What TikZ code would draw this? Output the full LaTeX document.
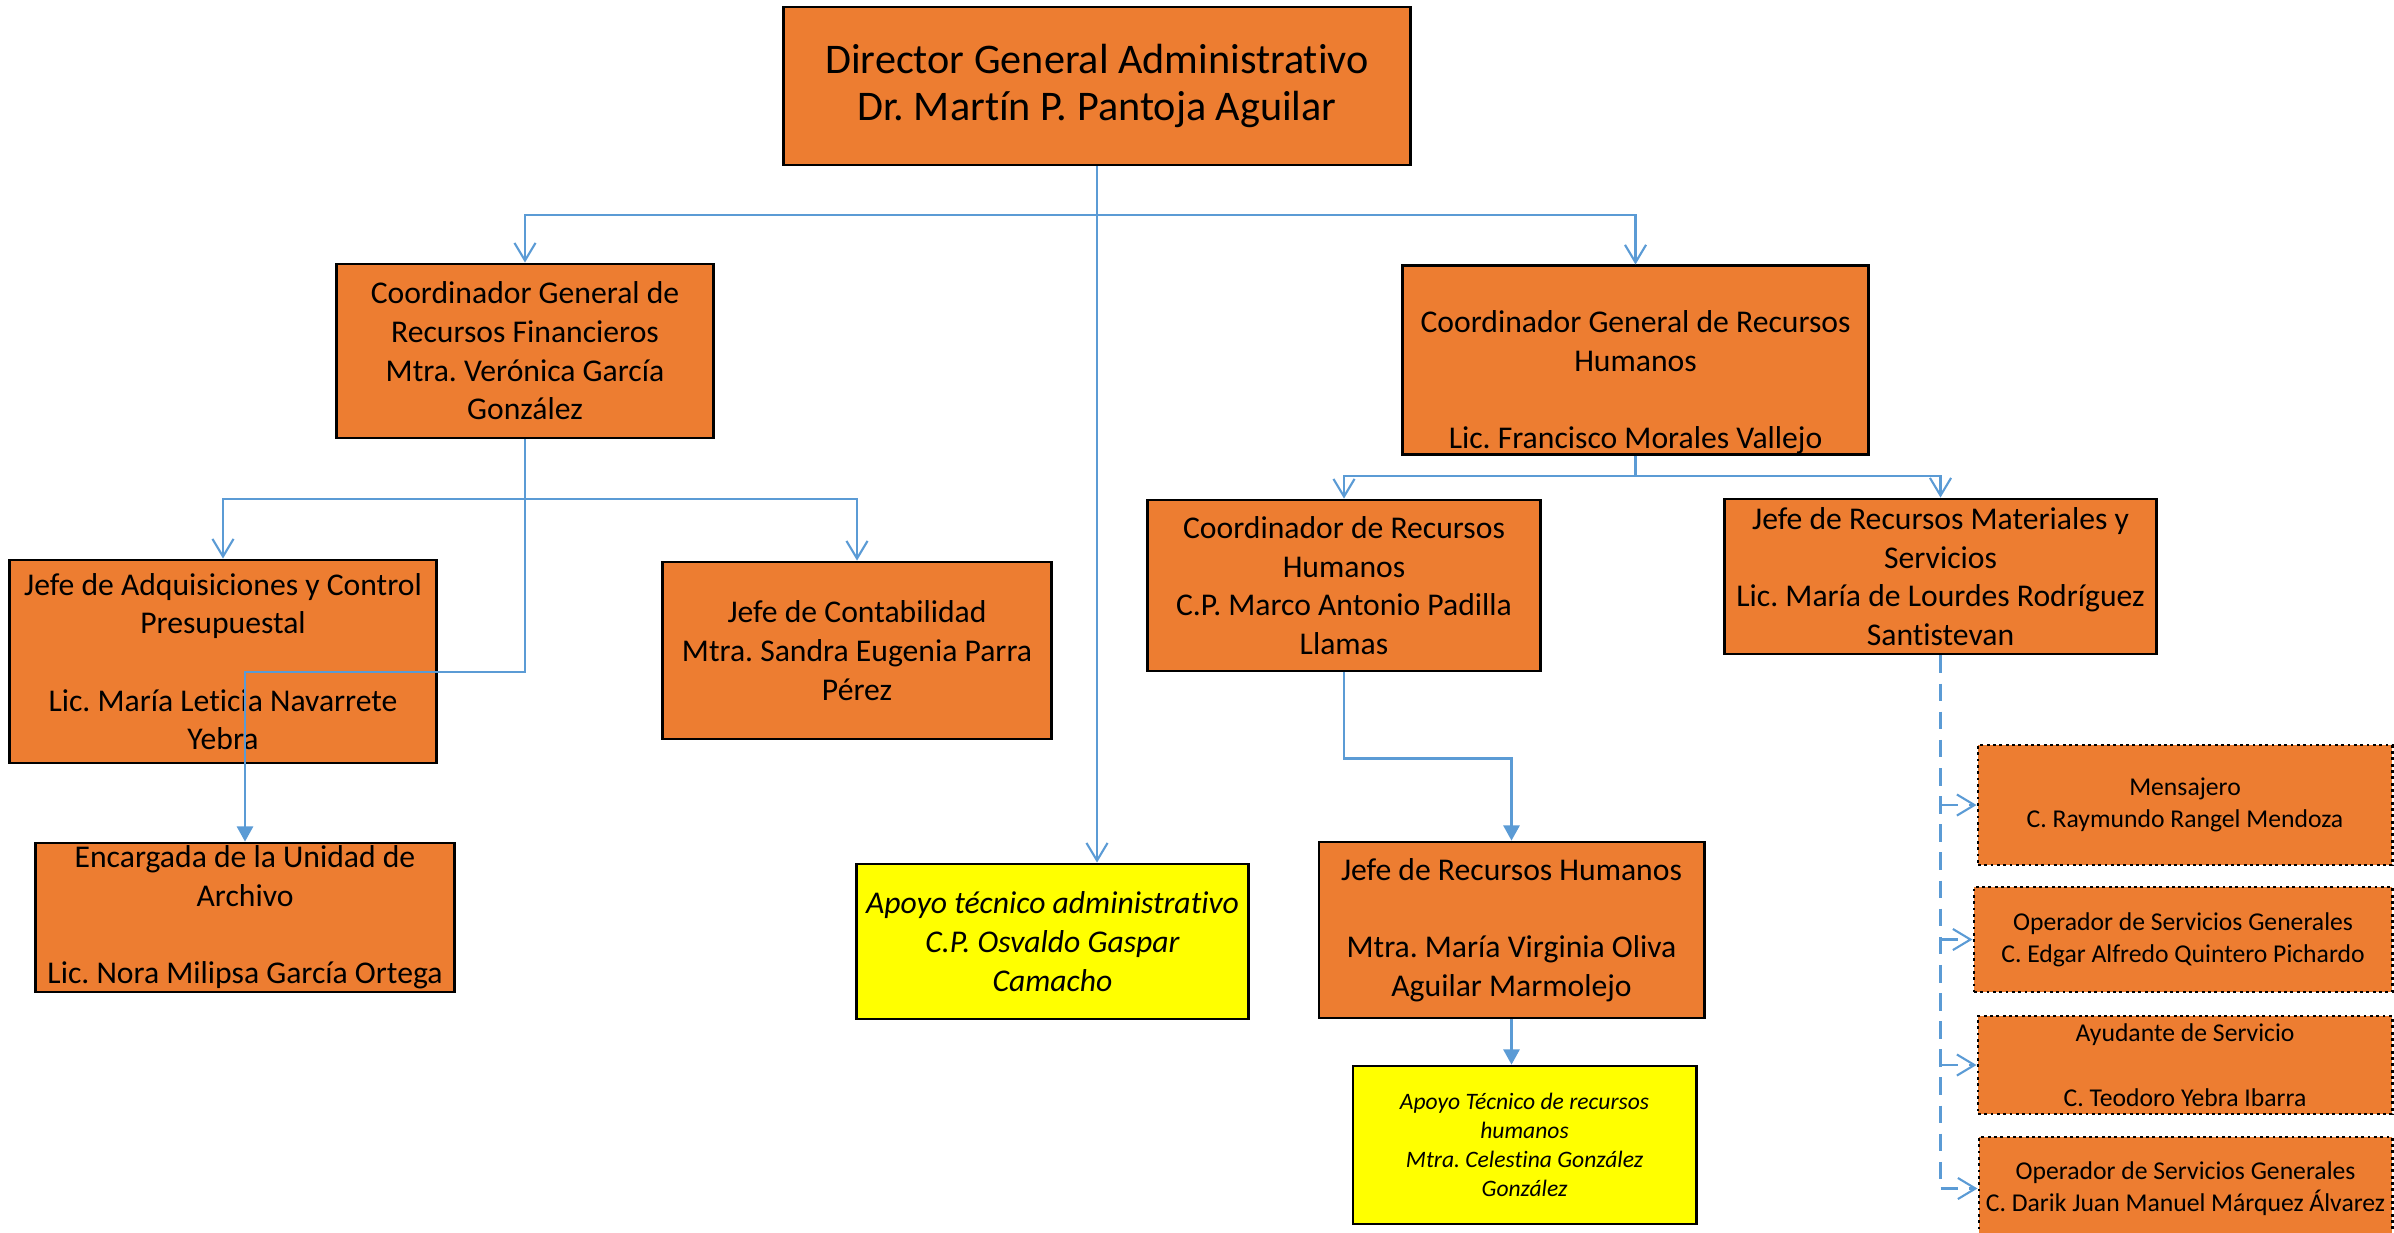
\documentclass[tikz,border=0pt]{standalone}
\usepackage{fontspec}
\setmainfont{Carlito}[Ligatures=NoCommon]
\usetikzlibrary{arrows.meta}
\definecolor{cajanaranja}{HTML}{ED7D31}
\definecolor{lineaazul}{HTML}{5B9BD5}
\definecolor{cajaamarilla}{HTML}{FFFF00}
\frenchspacing
\begin{document}
\begin{tikzpicture}[x=0.01cm,y=-0.01cm,
  unit/.style={draw=black,line width=0.8pt,fill=cajanaranja,align=center,inner sep=0pt,font=\fontsize{9}{11}\selectfont},
  apoyo/.style={unit,fill=cajaamarilla},
  servicio/.style={unit,densely dotted,font=\fontsize{7.3}{9.2}\selectfont},
  link/.style={draw=lineaazul,line width=0.6pt},
  openarrow/.style={-{Straight Barb[length=5pt,width=6pt]}},
  fillarrow/.style={-{Triangle[length=4.3pt,width=4.6pt]}}]
\useasboundingbox (0,0) rectangle (2394,1232);
% direccion
\node[unit,minimum width=6.26cm,minimum height=1.58cm,font=\fontsize{12}{13.4}\selectfont] (dir) at (1097,86)
  {Director General Administrativo\\Dr. Martín P. Pantoja Aguilar};
% coordinaciones generales
\node[unit,minimum width=3.76cm,minimum height=1.74cm] (cgrf) at (525,351)
  {Coordinador General de\\Recursos Financieros\\Mtra. Verónica García\\González};
\node[unit,minimum width=4.65cm,minimum height=1.86cm] (cgrh) at (1635.5,360)
  {\rule{0pt}{19pt}Coordinador General de Recursos\\Humanos\\[11pt]Lic. Francisco Morales Vallejo};
% jefaturas
\node[unit,minimum width=4.26cm,minimum height=2.03cm] (jadq) at (223,661.5)
  {Jefe de Adquisiciones y Control\\Presupuestal\\[11pt]Lic. María Leticia Navarrete\\Yebra};
\node[unit,minimum width=3.88cm,minimum height=1.77cm] (jcont) at (857,650.5)
  {Jefe de Contabilidad\\Mtra. Sandra Eugenia Parra\\Pérez};
\node[unit,minimum width=4.18cm,minimum height=1.49cm] (archivo) at (245,917.5)
  {Encargada de la Unidad de\\Archivo\\[11pt]Lic. Nora Milipsa García Ortega};
\node[apoyo,minimum width=3.91cm,minimum height=1.55cm,font=\fontsize{9}{11}\selectfont\itshape] (apoyoadm) at (1052.5,941.5)
  {Apoyo técnico administrativo\\C.P. Osvaldo Gaspar\\Camacho};
\node[unit,minimum width=3.92cm,minimum height=1.71cm] (crh) at (1344,585.5)
  {Coordinador de Recursos\\Humanos\\C.P. Marco Antonio Padilla\\Llamas};
\node[unit,minimum width=4.31cm,minimum height=1.55cm] (jrms) at (1940.5,576.5)
  {Jefe de Recursos Materiales y\\Servicios\\Lic. María de Lourdes Rodríguez\\Santistevan};
\node[unit,minimum width=3.85cm,minimum height=1.76cm] (jrh) at (1511.5,930)
  {Jefe de Recursos Humanos\\[11pt]Mtra. María Virginia Oliva\\Aguilar Marmolejo};
\node[apoyo,minimum width=3.43cm,minimum height=1.58cm,font=\fontsize{6.7}{8.2}\selectfont\itshape] (apoyorh) at (1524.5,1145)
  {Apoyo Técnico de recursos\\humanos\\Mtra. Celestina González\\González};
% servicios
\node[servicio,minimum width=4.14cm,minimum height=1.20cm] (mens) at (2185,805)
  {Mensajero\\C. Raymundo Rangel Mendoza};
\node[servicio,minimum width=4.18cm,minimum height=1.05cm] (opsg1) at (2183,939.5)
  {Operador de Servicios Generales\\C. Edgar Alfredo Quintero Pichardo};
\node[servicio,minimum width=4.14cm,minimum height=0.98cm] (ayud) at (2185,1065)
  {Ayudante de Servicio\\[9.2pt]C. Teodoro Yebra Ibarra};
\node[servicio,minimum width=4.13cm,minimum height=1.03cm] (opsg2) at (2185.5,1188.5)
  {Operador de Servicios Generales\\C. Darik Juan Manuel Márquez Álvarez};
% conectores
\coordinate (busdir) at (1097,215);
\coordinate (buscgrf) at (525,499);
\coordinate (buscgrh) at (1635.5,476);
\draw[link,openarrow] (dir.south) -- (busdir) -| (cgrf.north);
\draw[link,openarrow] (busdir) -| (cgrh.north);
\draw[link,openarrow] (busdir) -- (busdir |- apoyoadm.north);
\draw[link,openarrow] (cgrf.south) -- (buscgrf) -| (jadq.north);
\draw[link,openarrow] (buscgrf) -| (jcont.north);
\draw[link,fillarrow] (buscgrf) -- ++(0,173) -| (archivo.north);
\draw[link,openarrow] (cgrh.south) -- (buscgrh) -| (crh.north);
\draw[link,openarrow] (buscgrh) -| (jrms.north);
\draw[link,fillarrow] (crh.south) -- ++(0,86) -| (jrh.north);
\draw[link,fillarrow] (jrh.south) -- (jrh.south |- apoyorh.north);
\draw[link,dash pattern=on 5pt off 3pt] (jrms.south) -- (jrms.south |- opsg2.west);
\foreach \s in {mens,opsg1,ayud,opsg2}
  \draw[link,openarrow,dash pattern=on 5pt off 3pt] (jrms.south |- \s.west) -- (\s.west);
\end{tikzpicture}
\end{document}
